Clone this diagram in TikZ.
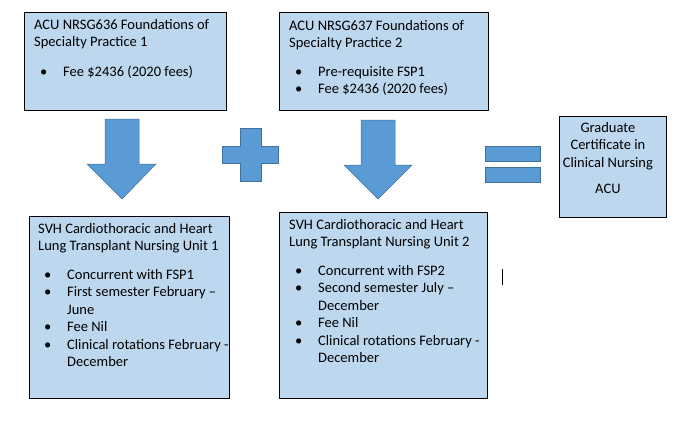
\documentclass[tikz,border=0pt]{standalone}
\usepackage{fontspec}
\setmainfont{Carlito}
\definecolor{boxblue}{RGB}{189,215,238}
\definecolor{shapeblue}{RGB}{91,155,213}
\definecolor{shapeline}{RGB}{65,113,156}
\newcommand{\bul}{\makebox[29pt][l]{\hspace{6pt}\textbullet}}
\newcommand{\hang}{\hspace*{29pt}}
\tikzset{
  course/.style={draw=black, line width=0.8pt, fill=boxblue, anchor=north west, inner sep=0pt},
  txt/.style={anchor=base west, inner sep=0pt, font=\fontsize{14.5}{17.5}\selectfont},
  block/.style={fill=shapeblue, draw=shapeline, line width=0.5pt}
}
\begin{document}
\begin{tikzpicture}[x=1pt,y=-1pt]
                  \useasboundingbox (0,0) rectangle (680,424);

                  % Cajas
                  \node[course, minimum width=202pt, minimum height=98pt] (fspa) at (24,12) {};
                  \node[course, minimum width=209pt, minimum height=98pt] (fspb) at (279,12) {};
                  \node[course, minimum width=200pt, minimum height=182pt] (svha) at (29,216) {};
                  \node[course, minimum width=208pt, minimum height=186pt] (svhb) at (279,212) {};
                  \node[course, minimum width=107pt, minimum height=101pt] (grad) at (559,116) {};

                  % Textos
                  \node[txt] (fspatxt) at ([shift={(10,17)}]fspa.north west) {\parbox[t]{200pt}{%
                      ACU NRSG636 Foundations of\\
                      Specialty Practice 1\\[12pt]
                      \bul Fee \$2436 (2020 fees)}};
                  \node[txt] (fspbtxt) at ([shift={(10,18)}]fspb.north west) {\parbox[t]{200pt}{%
                      ACU NRSG637 Foundations of\\
                      Specialty Practice 2\\[11pt]
                      \bul Pre-requisite FSP1\\
                      \bul Fee \$2436 (2020 fees)}};
                  \node[txt] (svhatxt) at ([shift={(9,17)}]svha.north west) {\parbox[t]{200pt}{%
                      SVH Cardiothoracic and Heart\\
                      Lung Transplant Nursing Unit 1\\[11pt]
                      \bul Concurrent with FSP1\\
                      \bul First semester February –\\
                      \hang June\\
                      \bul Fee Nil\\
                      \bul Clinical rotations February -\\
                      \hang December}};
                  \node[txt] (svhbtxt) at ([shift={(10,17)}]svhb.north west) {\parbox[t]{200pt}{%
                      SVH Cardiothoracic and Heart\\
                      Lung Transplant Nursing Unit 2\\[11pt]
                      \bul Concurrent with FSP2\\
                      \bul Second semester July –\\
                      \hang December\\
                      \bul Fee Nil\\
                      \bul Clinical rotations February -\\
                      \hang December}};
                  \node[txt, anchor=base] (gradtxt) at ([shift={(-5,16)}]grad.north) {\parbox[t]{100pt}{\centering
                      Graduate\\
                      Certificate in\\
                      Clinical Nursing\\[9pt]
                      ACU}};

                  % Flechas y signos
                  \draw[block] (105,119) -- (139,119) -- (139,164) -- (156,164) -- (122,199)
                      -- (87,164) -- (105,164) -- cycle;
                  \draw[block] (361,120) -- (395,120) -- (395,165) -- (412,165) -- (378,199)
                      -- (344,165) -- (361,165) -- cycle;
                  \draw[block] (240,128) -- (261,128) -- (261,146) -- (278,146) -- (278,163)
                      -- (261,163) -- (261,181) -- (240,181) -- (240,163) -- (222,163)
                      -- (222,146) -- (240,146) -- cycle;
                  \draw[block] (485,146) rectangle (540,161);
                  \draw[block] (485,167) rectangle (540,182);

                  % Cursor
                  \draw[line width=0.6pt] (502,269) -- (502,285);
              \end{tikzpicture}
\end{document}
